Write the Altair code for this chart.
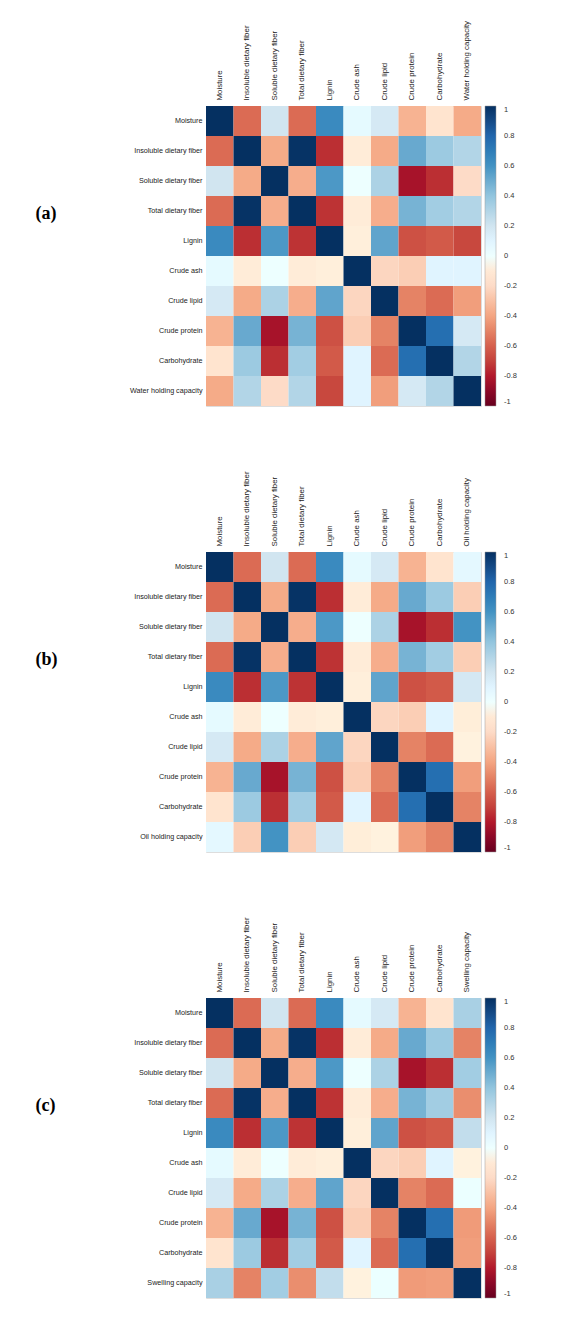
import altair as alt
import pandas as pd

# ---- data ----
base_vars = ["Moisture", "Insoluble dietary fiber", "Soluble dietary fiber",
             "Total dietary fiber", "Lignin", "Crude ash", "Crude lipid",
             "Crude protein", "Carbohydrate"]

r_moisture = [1, -0.57, 0.20, -0.57, 0.64, 0.06, 0.17, -0.35, -0.14]
r_idf      = [-0.57, 1, -0.38, 0.99, -0.75, -0.08, -0.38, 0.51, 0.37]
r_sdf      = [0.20, -0.38, 1, -0.37, 0.58, 0.01, 0.32, -0.83, -0.75]
r_tdf      = [-0.57, 0.99, -0.37, 1, -0.74, -0.08, -0.37, 0.47, 0.35]
r_lignin   = [0.64, -0.75, 0.58, -0.74, 1, -0.06, 0.53, -0.65, -0.62]
r_ash      = [0.06, -0.08, 0.01, -0.08, -0.06, 1, -0.22, -0.25, 0.10]
r_lipid    = [0.17, -0.38, 0.32, -0.37, 0.53, -0.22, 1, -0.50, -0.57]
r_protein  = [-0.35, 0.51, -0.83, 0.47, -0.65, -0.25, -0.50, 1, 0.76]
r_carb     = [-0.14, 0.37, -0.75, 0.35, -0.62, 0.10, -0.57, 0.76, 1]
base_rows = [r_moisture, r_idf, r_sdf, r_tdf, r_lignin, r_ash, r_lipid, r_protein, r_carb]

whc_name = "Water holding capacity"
whc_vals = [-0.38, 0.30, -0.20, 0.30, -0.68, 0.10, -0.42, 0.17, 0.30, 1]
ohc_name = "Oil holding capacity"
ohc_vals = [0.07, -0.25, 0.60, -0.25, 0.18, -0.07, -0.04, -0.42, -0.50, 1]
sc_name = "Swelling capacity"
sc_vals = [0.33, -0.50, 0.35, -0.47, 0.25, -0.04, 0.02, -0.43, -0.42, 1]

tags = ["(a)", "(b)", "(c)"]

legend_values = [-1, -0.8, -0.6, -0.4, -0.2, 0, 0.2, 0.4, 0.6, 0.8, 1]
rdbu = ["#67001F", "#B2182B", "#D6604D", "#F4A582", "#FDDBC7", "#FFFFFF",
        "#D1E5F0", "#92C5DE", "#4393C3", "#2166AC", "#053061"]


def build_df(extra_name, extra_vals):
    vars_ = base_vars + [extra_name]
    recs = []
    for i, rv in enumerate(vars_):
        for j, cv in enumerate(vars_):
            if i < 9 and j < 9:
                v = base_rows[i][j]
            elif i == 9:
                v = extra_vals[j]
            else:
                v = extra_vals[i]
            recs.append({"row": rv, "col": cv, "r": v})
    return pd.DataFrame(recs), vars_


def panel(extra_name, extra_vals, tag):
    df, vars_ = build_df(extra_name, extra_vals)
    return alt.Chart(df).mark_rect().encode(
        x=alt.X("col:N", sort=vars_, title=None,
                axis=alt.Axis(orient="top", labelAngle=-90, labelAlign="left",
                              labelBaseline="middle", ticks=False, domain=False,
                              labelPadding=6, labelFontSize=7.9,
                              labelFont="Liberation Sans", labelColor="#222222",
                              labelLimit=200)),
        y=alt.Y("row:N", sort=vars_,
                axis=alt.Axis(ticks=False, domain=False, labelPadding=4,
                              labelFontSize=7.2, labelFont="Liberation Sans",
                              labelColor="#222222", labelLimit=200,
                              title=tag, titleAngle=0, titleX=-171, titleY=107,
                              titleFont="Liberation Serif", titleFontSize=18,
                              titleFontWeight="bold", titleAlign="left",
                              titleBaseline="middle", titleColor="#000000")),
        color=alt.Color("r:Q", title=None,
                        scale=alt.Scale(domain=legend_values, range=rdbu),
                        legend=alt.Legend(orient="right", offset=4,
                                          gradientLength=300, gradientThickness=11,
                                          gradientStrokeColor="#999999",
                                          gradientStrokeWidth=0.5,
                                          values=legend_values,
                                          labelExpr="toString(datum.value)",
                                          labelFontSize=7.5, labelOffset=8,
                                          labelFont="Liberation Sans",
                                          labelColor="#333333",
                                          labelOverlap=False)),
    ).properties(width=275, height=300)


pa = panel(whc_name, whc_vals, tags[0])
pb = panel(ohc_name, ohc_vals, tags[1])
pc = panel(sc_name, sc_vals, tags[2])

chart = alt.vconcat(pa, pb, pc, spacing=146, bounds="flush").resolve_scale(
    color="independent"
).properties(
    padding={"left": 26, "top": 11, "right": 5, "bottom": 5}
).configure_view(strokeWidth=0).configure(background="white")

chart.save("out.html", embed_options={"renderer": "svg", "actions": False})
